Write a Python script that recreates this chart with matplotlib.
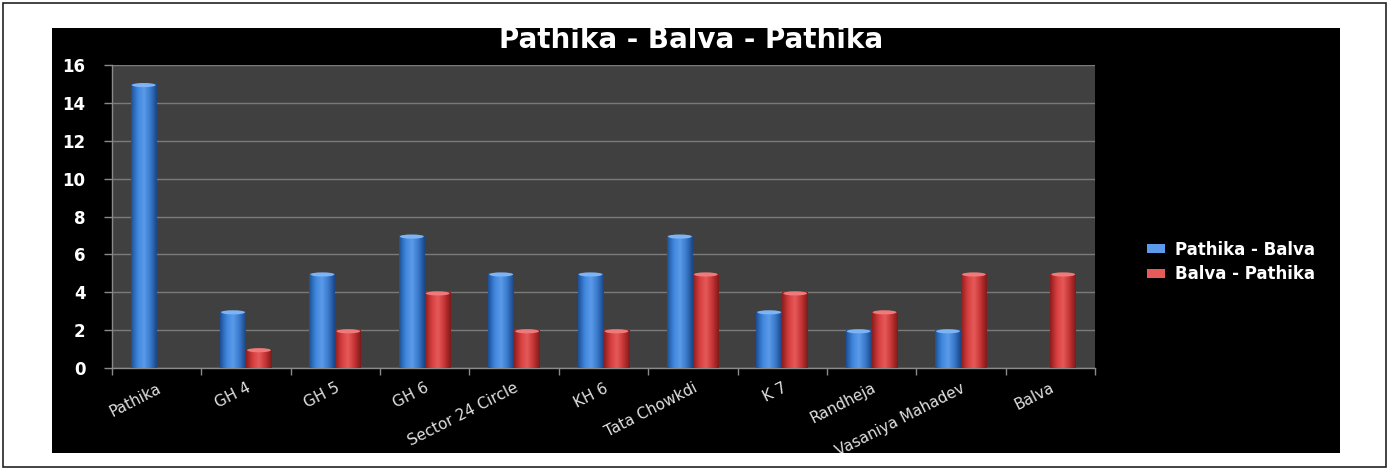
import numpy as np
import matplotlib
matplotlib.use("Agg")
import matplotlib.pyplot as plt
from matplotlib.patches import Rectangle, Ellipse
from matplotlib.colors import LinearSegmentedColormap

stops = ["Pathika", "GH 4", "GH 5", "GH 6", "Sector 24 Circle", "KH 6",
         "Tata Chowkdi", "K 7", "Randheja", "Vasaniya Mahadev", "Balva"]
pathika_balva = [15, 3, 5, 7, 5, 5, 7, 3, 2, 2, 0]
balva_pathika = [0, 1, 2, 4, 2, 2, 5, 4, 3, 5, 5]
series_names = ["Pathika - Balva", "Balva - Pathika"]
yticks = [0, 2, 4, 6, 8, 10, 12, 14, 16]

W, H = 1393, 470
fig = plt.figure(figsize=(W / 100, H / 100), dpi=100)
fig.patch.set_facecolor("white")

# outer frame and black chart background (behind the axes)
fig.patches.append(Rectangle((3 / W, 1 - 467 / H), 1383 / W, 464 / H,
                             transform=fig.transFigure, facecolor="none",
                             edgecolor="#222222", linewidth=1.2, zorder=-2))
bg = Rectangle((52 / W, 1 - 453 / H), 1288 / W, 425 / H,
               transform=fig.transFigure, facecolor="black",
               edgecolor="none", zorder=-1)
fig.patches.append(bg)

ax = fig.add_axes([112 / W, 1 - 368 / H, 983 / W, 303 / H])
ax.set_facecolor("#404040")

x = np.arange(len(stops))
bw = 0.29
off = 0.145

blue_cmap = LinearSegmentedColormap.from_list(
    "b", ["#1d4f96", "#3f86dc", "#5b9bea", "#3a7acb", "#1a4686"])
red_cmap = LinearSegmentedColormap.from_list(
    "r", ["#8e1d1d", "#d63d3d", "#e65a5a", "#c73535", "#7e1a1a"])

grad = np.linspace(0, 1, 64).reshape(1, -1)


def shaded_bars(xs, vals, cmap, top_col, label):
    bars = ax.bar(xs, vals, bw, color=cmap(0.5), edgecolor="none",
                  label=label, zorder=3)
    for b, v in zip(bars, vals):
        if v <= 0:
            continue
        x0, w = b.get_x(), b.get_width()
        im = ax.imshow(grad, cmap=cmap, aspect="auto",
                       extent=(x0, x0 + w, 0, v), zorder=3.5,
                       interpolation="bicubic")
        im.set_clip_path(b)
        ax.add_patch(Ellipse((x0 + w / 2, v - 0.06), w * 0.92, 0.22,
                             facecolor=top_col, edgecolor="none",
                             zorder=4))
    return bars


shaded_bars(x - off, pathika_balva, blue_cmap, "#7db4f5", series_names[0])
shaded_bars(x + off, balva_pathika, red_cmap, "#f07a7a", series_names[1])

ax.set_xlim(-0.5, len(stops) - 0.5)
ax.set_ylim(0, 16)
ax.set_yticks(yticks)
ax.yaxis.grid(True, color="#7a7a7a", linewidth=1)
ax.set_axisbelow(True)

for s in ["top", "right"]:
    ax.spines[s].set_visible(False)
for s in ["left", "bottom"]:
    ax.spines[s].set_color("#8a8a8a")
    ax.spines[s].set_linewidth(1)

ax.tick_params(axis="y", colors="#8a8a8a", length=6, width=1,
               labelcolor="white", labelsize=12, pad=13)
for t in ax.get_yticklabels():
    t.set_fontweight("bold")

ax.set_xticks(x)
ax.set_xticklabels(stops, rotation=27, ha="right", rotation_mode="anchor",
                   color="#e0e0e0", fontsize=11)
ax.set_xticks(np.arange(-0.5, len(stops), 1.0), minor=True)
ax.tick_params(axis="x", which="major", length=0, pad=9)
ax.tick_params(axis="x", which="minor", length=5, width=1, colors="#8a8a8a")
for t in ax.get_xticklabels():
    t.set_clip_path(bg)

fig.text(691 / W, 1 - 40 / H, "Pathika - Balva - Pathika", color="white",
         fontsize=20, fontweight="bold", ha="center", va="center")

leg = ax.legend(loc="center left", bbox_to_anchor=(1132 / W, 1 - 262 / H),
                bbox_transform=fig.transFigure, frameon=False,
                handlelength=1.1, handleheight=0.45, handletextpad=0.6,
                labelspacing=0.4, prop={"weight": "bold", "size": 12})
for t in leg.get_texts():
    t.set_color("white")

fig.savefig("out.png", dpi=100, facecolor=fig.get_facecolor())
